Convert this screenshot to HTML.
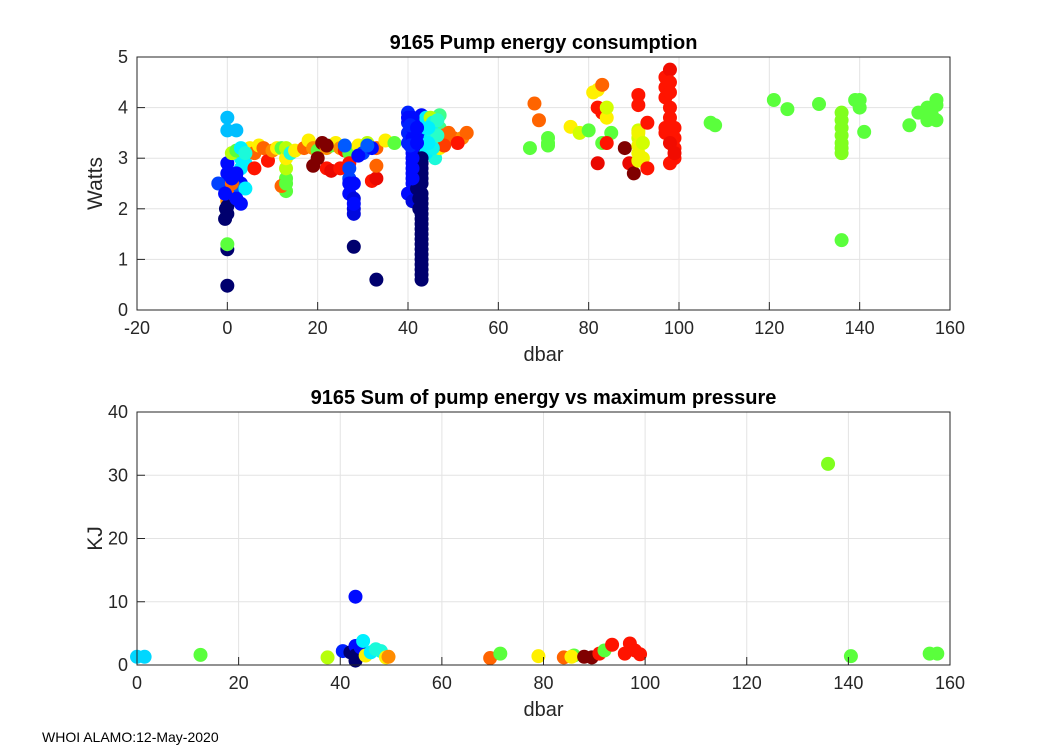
<!DOCTYPE html>
<html><head><meta charset="utf-8"><style>
body{margin:0;background:#fff;}
svg{display:block;font-family:"Liberation Sans",sans-serif;}
</style></head><body>
<svg id="fig" width="1050" height="750" viewBox="0 0 1050 750" xmlns="http://www.w3.org/2000/svg">
<rect width="1050" height="750" fill="#fff"/>
<g id="top"></g>
<g id="bot"></g>
<text x="42" y="742" font-size="14" fill="#000">WHOI ALAMO:12-May-2020</text>
</svg>
<script>
// Top chart data: pressure (dbar), power (Watts), color index (0..1)
const topX = [0,0,0,-0.5,-0.3,0,0,0,0,-2,1,2,3,3,2,0,0,0,2,3,4,4,3,0,1,0,5,6,7,6,9,1,2,3,4,8,10,11,
 12,13,13,13,13,13,12,13,14,15,17,18,19,20,21,22,23,24,25,26,27,29,31,33,35,37,
 22,23,25,27,32,33,33,19,22,20,27,27,28,28,27,28,28,28,33,26,30,32,29,31,
 40,40,40,40,41,41,41,41,40,41,40,42,42,42,42,42,42,43,43,43,43,43,43,43,43,43,43,43,43,43,42,43,42,43,
 44,44,45,45,46,46,46,47,47,47,45,44,46,47,48,48,49,50,52,53,51,48,
 68,69,67,71,71,71,76,78,80,81,82,83,82,83,84,84,85,83,82,84,
 88,89,90,91,91,91,91,91,91,91,91,92,92,93,93,
 97,97,97,98,98,98,98,98,99,99,99,99,98,97,98,99,97,
 107,108,121,124,131,136,136,136,136,136,136,136,136,139,140,140,141,151,153,155,155,157,157,157,156,
 43,43,43,43,43,43,43,43,43,43,43,43,43,42.5,42.5,42.5,41,41,41,41,41,41,41,40.5,40.5,45.5,45.5,45.5,46.5,46.5,44.5,44.5,0,0,-0.5,1,2,2,28,27,42,42];
const topY = [0.48,1.2,1.3,1.8,2.0,2.2,2.9,2.5,2.7,2.5,2.3,2.6,2.1,2.5,2.4,3.8,3.55,2.3,3.55,3.0,2.9,2.4,2.8,2.15,2.5,2.15,3.2,3.1,3.25,2.8,2.95,3.1,3.15,3.2,3.1,3.2,3.15,3.2,
 3.2,2.35,2.6,2.8,3.0,3.2,2.45,2.5,3.1,3.15,3.2,3.35,3.2,3.15,3.3,3.2,3.25,3.3,3.2,3.15,3.1,3.25,3.3,3.2,3.35,3.3,
 2.8,2.75,2.8,2.9,2.55,2.6,2.85,2.85,3.25,3.0,2.6,2.3,1.9,2.0,2.8,2.2,2.5,1.25,0.6,3.25,3.1,3.2,3.05,3.25,
 3.9,3.7,3.5,3.3,3.1,2.9,2.7,2.5,2.3,2.15,3.8,3.6,3.4,3.2,3.0,2.8,2.6,3.1,2.8,2.5,2.2,2.0,1.8,1.6,1.4,1.2,1.0,0.8,0.6,3.85,2.4,2.9,3.7,3.5,
 3.8,3.6,3.4,3.2,3.0,3.7,3.5,3.3,3.85,3.6,3.8,3.1,3.4,3.2,3.4,3.45,3.5,3.4,3.4,3.5,3.3,3.25,
 4.08,3.75,3.2,3.3,3.4,3.25,3.62,3.5,3.55,4.3,4.35,4.45,4.0,3.9,3.8,4.0,3.5,3.3,2.9,3.3,
 3.2,2.9,2.7,4.25,4.05,3.55,3.4,3.25,3.1,2.95,3.5,3.3,3.0,2.8,3.7,
 4.6,4.4,4.2,4.75,4.5,4.3,4.0,3.8,3.6,3.4,3.2,3.0,2.9,3.5,3.3,3.1,3.6,
 3.7,3.65,4.15,3.97,4.07,3.9,3.75,3.6,3.45,3.3,3.2,3.1,1.38,4.15,4.0,4.15,3.52,3.65,3.9,4.0,3.75,3.75,4.15,4.05,3.85,
 0.7,0.9,1.1,1.3,1.5,1.7,1.9,2.1,2.3,2.6,2.7,2.9,3.0,2.5,2.2,2.0,3.8,3.6,3.4,3.2,3.0,2.8,2.6,3.65,3.25,3.7,3.5,3.2,3.75,3.45,3.6,3.3,2.05,1.9,2.3,2.6,2.7,2.2,2.1,2.5,3.6,3.3];
const topC = [0,0,0.5,0,0,0,0.13,0.13,0.13,0.18,0.13,0.13,0.13,0.13,0.2,0.3,0.3,0.75,0.3,0.36,0.36,0.36,0.36,0.63,0.75,0.72,0.63,0.75,0.63,0.85,0.85,0.58,0.5,0.36,0.4,0.75,0.72,0.63,
 0.5,0.5,0.5,0.58,0.63,0.58,0.75,0.5,0.4,0.63,0.75,0.63,0.72,0.5,0.98,0.72,0.5,0.63,0.72,0.85,0.5,0.63,0.58,0.75,0.63,0.5,
 0.85,0.88,0.85,0.85,0.85,0.88,0.75,0.98,0.98,0.98,0.18,0.13,0.1,0.1,0.18,0.1,0.13,0,0,0.2,0.18,0.13,0.13,0.2,
 0.15,0.15,0.15,0.15,0.13,0.13,0.13,0.13,0.13,0.1,0.13,0.13,0.13,0.13,0.13,0.13,0.13,0,0,0,0,0,0,0,0,0,0,0,0,0.13,0,0,0.13,0.13,
 0.36,0.36,0.36,0.36,0.4,0.42,0.42,0.44,0.45,0.45,0.58,0.36,0.5,0.63,0.58,0.75,0.75,0.75,0.72,0.75,0.85,0.8,
 0.75,0.75,0.5,0.5,0.5,0.5,0.63,0.6,0.5,0.63,0.63,0.75,0.85,0.85,0.63,0.6,0.5,0.5,0.88,0.85,
 0.98,0.88,0.98,0.85,0.85,0.6,0.6,0.62,0.62,0.62,0.62,0.6,0.62,0.85,0.85,
 0.85,0.85,0.85,0.87,0.85,0.85,0.85,0.85,0.85,0.85,0.85,0.85,0.85,0.85,0.87,0.87,0.85,
 0.5,0.5,0.5,0.5,0.5,0.54,0.54,0.54,0.54,0.54,0.54,0.54,0.5,0.5,0.5,0.5,0.5,0.5,0.5,0.5,0.5,0.5,0.5,0.5,0.5,
 0,0,0,0,0,0,0,0,0,0,0,0,0,0,0,0,0.13,0.13,0.13,0.13,0.13,0.13,0.13,0.15,0.15,0.38,0.38,0.38,0.42,0.42,0.36,0.36,0,0,0.13,0.13,0.13,0.13,0.13,0.13,0.13,0.13];
const topXTicks = [-20,0,20,40,60,80,100,120,140,160];
const topYTicks = [0,1,2,3,4,5];

// Bottom chart data: max pressure (dbar), energy sum (KJ), color index
const botX = [0,1.5,12.5,37.5,40.5,42,43,43,43,43,44,44.5,45,46,47,48,49,49.5,69.5,71.5,79,84,86,85.5,88,89.5,91,92,93.5,96,97,98,99,136,140.5,156,157.5];
const botY = [1.3,1.3,1.6,1.2,2.2,2,10.8,3,0.7,1.5,2.8,3.8,1.5,2,2.5,2.2,1.2,1.3,1.1,1.8,1.4,1.2,1.5,1.3,1.3,1.2,1.8,2.3,3.2,1.8,3.4,2.3,1.7,31.8,1.4,1.8,1.8];
const botC = [0.33,0.33,0.5,0.58,0.15,0,0.13,0.13,0,0,0.13,0.36,0.63,0.36,0.4,0.4,0.63,0.72,0.75,0.5,0.63,0.75,0.5,0.63,0.98,0.98,0.85,0.5,0.85,0.85,0.85,0.85,0.85,0.54,0.5,0.5,0.5];
const botXTicks = [0,20,40,60,80,100,120,140,160];
const botYTicks = [0,10,20,30,40];

// colormap stops (index -> rgb)
const cmapStops = [[0,0,0,110],[0.13,0,10,255],[0.2,0,90,255],[0.3,0,190,255],[0.36,0,240,255],[0.42,40,255,200],[0.46,70,255,120],[0.5,90,255,60],[0.54,128,255,30],[0.6,210,255,0],[0.63,255,240,0],[0.72,255,140,0],[0.75,255,100,0],[0.85,255,20,0],[0.9,220,0,0],[0.98,128,0,0],[1,120,0,0]];
const NS = "http://www.w3.org/2000/svg";
function cmap(v){
  for(let i=1;i<cmapStops.length;i++){
    const a=cmapStops[i-1], b=cmapStops[i];
    if(v<=b[0]){
      const t=(v-a[0])/(b[0]-a[0]||1);
      return `rgb(${Math.round(a[1]+(b[1]-a[1])*t)},${Math.round(a[2]+(b[2]-a[2])*t)},${Math.round(a[3]+(b[3]-a[3])*t)})`;
    }
  }
  return 'rgb(120,0,0)';
}
function mk(tag, attrs, parent){
  const e=document.createElementNS(NS,tag);
  for(const k in attrs) e.setAttribute(k,attrs[k]);
  parent.appendChild(e); return e;
}
function drawChart(g, cfg){
  const {x0,x1,y0,y1,xmin,xmax,ymin,ymax,xt,yt,xs,ys,cs,title,ylabel,xlabel} = cfg;
  const sx=v=>x0+(v-xmin)/(xmax-xmin)*(x1-x0);
  const sy=v=>y1-(v-ymin)/(ymax-ymin)*(y1-y0);
  const bg=mk('rect',{x:x0,y:y0,width:x1-x0,height:y1-y0,fill:'#fff'},g);
  
  
  xt.forEach(t=>{
    const l=mk('line',{x1:sx(t),x2:sx(t),y1:y0,y2:y1,stroke:'#e3e3e3','stroke-width':1},g);
    
    
  });
  yt.forEach(t=>{
    const l=mk('line',{x1:x0,x2:x1,y1:sy(t),y2:sy(t),stroke:'#e3e3e3','stroke-width':1},g);
    
    
  });
  xs.forEach((v,i)=>{
    const c=mk('circle',{cx:sx(v),cy:sy(ys[i]),r:7,fill:cmap(cs[i])},g);
    
    
  });
  const box=mk('rect',{x:x0,y:y0,width:x1-x0,height:y1-y0,fill:'none',stroke:'#262626','stroke-width':1},g);
  
  
  xt.forEach(t=>{
    const tk=mk('line',{x1:sx(t),x2:sx(t),y1:y1,y2:y1-8,stroke:'#262626'},g);
    
    
    const tx=mk('text',{x:sx(t),y:y1+24,'font-size':18,'text-anchor':'middle',fill:'#262626'},g);
    tx.textContent=t;
    
    
  });
  yt.forEach(t=>{
    const tk=mk('line',{x1:x0,x2:x0+8,y1:sy(t),y2:sy(t),stroke:'#262626'},g);
    
    
    const tx=mk('text',{x:x0-9,y:sy(t)+6,'font-size':18,'text-anchor':'end',fill:'#262626'},g);
    tx.textContent=t;
    
    
  });
  const ti=mk('text',{x:(x0+x1)/2,y:y0-8,'font-size':20,'font-weight':'bold','text-anchor':'middle',fill:'#000'},g);
  ti.textContent=title;
  
  
  const xl=mk('text',{x:(x0+x1)/2,y:y1+51,'font-size':20,'text-anchor':'middle',fill:'#262626'},g);
  xl.textContent=xlabel;
  
  
  const yl=mk('text',{x:0,y:0,'font-size':21,'text-anchor':'middle',fill:'#262626',transform:`translate(${cfg.ylx},${(y0+y1)/2}) rotate(-90)`},g);
  yl.textContent=ylabel;
  
  
}
drawChart(document.getElementById('top'),{x0:137,x1:950,y0:57,y1:310,xmin:-20,xmax:160,ymin:0,ymax:5,
  xt:topXTicks,yt:topYTicks,xs:topX,ys:topY,cs:topC,title:'9165 Pump energy consumption',ylabel:'Watts',xlabel:'dbar',ylx:102});
drawChart(document.getElementById('bot'),{x0:137,x1:950,y0:412,y1:665,xmin:0,xmax:160,ymin:0,ymax:40,
  xt:botXTicks,yt:botYTicks,xs:botX,ys:botY,cs:botC,title:'9165 Sum of pump energy vs maximum pressure',ylabel:'KJ',xlabel:'dbar',ylx:102});
</script>
</body></html>
